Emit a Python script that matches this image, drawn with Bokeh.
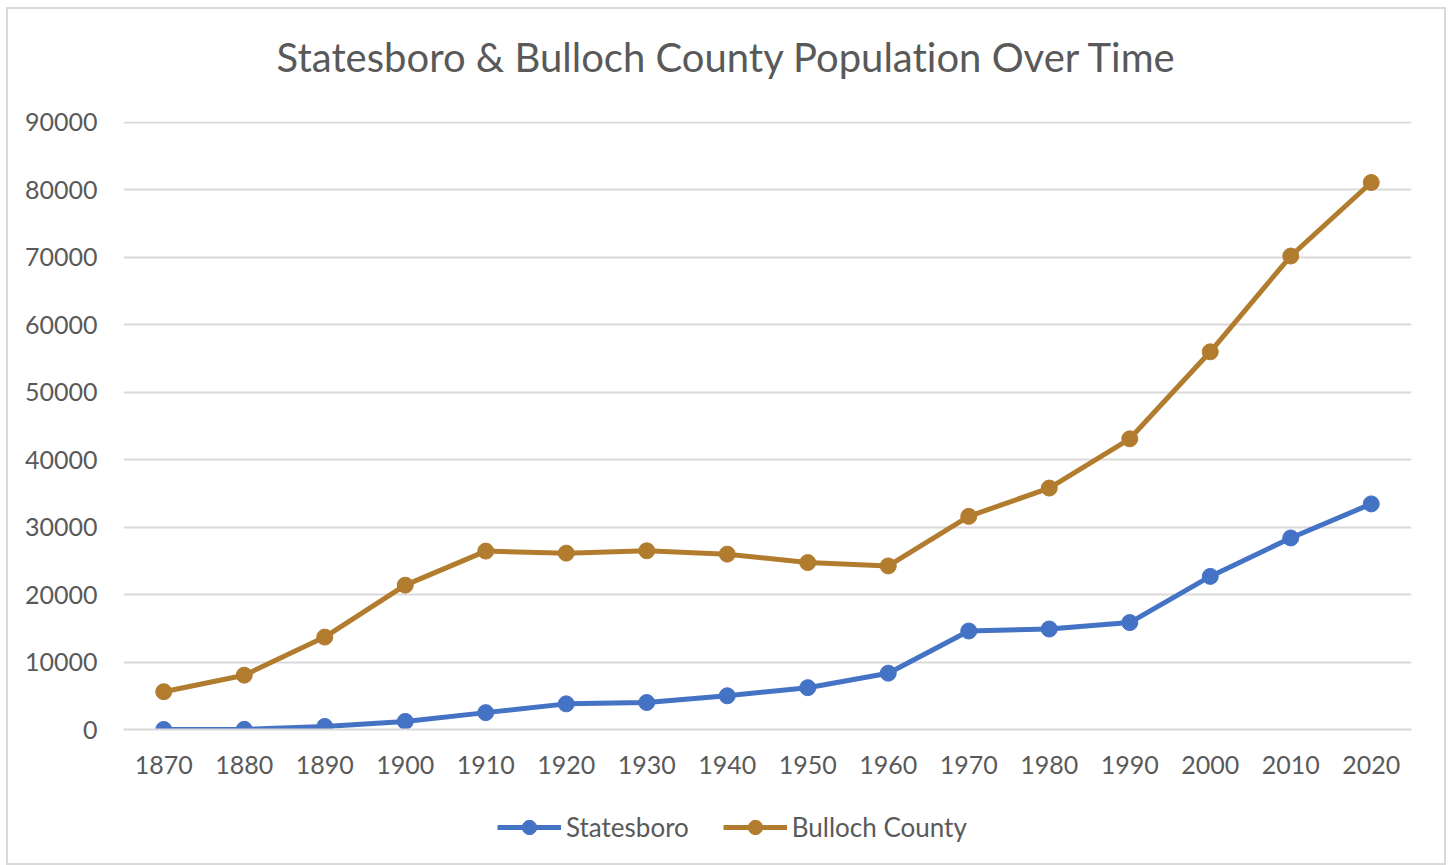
from bokeh.plotting import figure
from bokeh.layouts import column
from bokeh.models import Range1d, FactorRange, Legend, LegendItem, FixedTicker, Label
from bokeh.embed import file_html
from bokeh.resources import INLINE

years = ["1870", "1880", "1890", "1900", "1910", "1920", "1930", "1940",
         "1950", "1960", "1970", "1980", "1990", "2000", "2010", "2020"]
statesboro = [0, 25, 450, 1200, 2500, 3800, 4000, 5000,
              6200, 8350, 14600, 14900, 15850, 22700, 28400, 33450]
bulloch = [5600, 8050, 13700, 21400, 26450, 26150, 26500, 26000,
           24750, 24250, 31600, 35800, 43100, 56000, 70200, 81100]
y_ticks = [0, 10000, 20000, 30000, 40000, 50000, 60000, 70000, 80000, 90000]
title_text = "Statesboro & Bulloch County Population Over Time"

TXT = "#595959"
GRID = "#D9D9D9"
BLUE = "#4472C4"
GOLD = "#B27C2E"
FONT = "Lato"

W = 1436
TH, MH, LH = 92, 698, 64
ML, MR, MT, MB = 115, 33, 20, 70

# ---- title strip ----
tf = figure(width=W, height=TH, x_range=Range1d(0, 1), y_range=Range1d(0, 1),
            x_axis_type=None, y_axis_type=None, output_backend="svg",
            toolbar_location=None, min_border=0)
tf.outline_line_color = None
tf.grid.visible = False
tf.add_layout(Label(x=604, y=45, x_units="screen", y_units="screen",
                    text=title_text, text_align="center",
                    text_baseline="alphabetic", text_font=FONT,
                    text_font_size="40px", text_color=TXT))

# ---- main chart ----
p = figure(x_range=FactorRange(*years), y_range=Range1d(0, 90148),
           width=W, height=MH, output_backend="svg", toolbar_location=None,
           min_border_left=ML, min_border_right=MR, min_border_top=MT,
           min_border_bottom=MB)
p.outline_line_color = None
p.background_fill_color = "white"
p.border_fill_color = "white"

p.yaxis.ticker = FixedTicker(ticks=y_ticks)
p.yaxis.axis_line_color = None
p.yaxis.major_tick_line_color = None
p.yaxis.minor_tick_line_color = None
p.yaxis.major_tick_out = 0
p.yaxis.major_label_standoff = 26
p.yaxis.major_label_text_font = FONT
p.yaxis.major_label_text_font_size = "25px"
p.yaxis.major_label_text_color = TXT

p.xaxis.axis_line_color = GRID
p.xaxis.axis_line_width = 2
p.xaxis.major_tick_line_color = None
p.xaxis.minor_tick_line_color = None
p.xaxis.major_tick_out = 0
p.xaxis.major_label_standoff = 26
p.xaxis.major_label_text_font = FONT
p.xaxis.major_label_text_font_size = "25px"
p.xaxis.major_label_text_color = TXT

p.xgrid.grid_line_color = None
p.ygrid.grid_line_color = GRID
p.ygrid.grid_line_width = 2

p.line(years, statesboro, line_color=BLUE, line_width=5)
p.scatter(years, statesboro, size=16, fill_color=BLUE, line_color=BLUE)
p.line(years, bulloch, line_color=GOLD, line_width=5)
p.scatter(years, bulloch, size=16, fill_color=GOLD, line_color=GOLD)

# ---- legend strip (same series, drawn outside its visible range) ----
lf = figure(width=W, height=LH, x_range=FactorRange(*years), y_range=Range1d(-2, -1),
            x_axis_type=None, y_axis_type=None, output_backend="svg",
            toolbar_location=None, min_border=0)
lf.outline_line_color = None
lf.grid.visible = False
l1 = lf.line(years, statesboro, line_color=BLUE, line_width=5)
s1 = lf.scatter(years, statesboro, size=16, fill_color=BLUE, line_color=BLUE)
l2 = lf.line(years, bulloch, line_color=GOLD, line_width=5)
s2 = lf.scatter(years, bulloch, size=16, fill_color=GOLD, line_color=GOLD)
legend = Legend(items=[LegendItem(label="Statesboro", renderers=[l1, s1]),
                       LegendItem(label="Bulloch County", renderers=[l2, s2])],
                location=(374, 18), orientation="horizontal",
                glyph_width=64, glyph_height=36, label_standoff=5, spacing=34,
                padding=0, margin=0, border_line_color=None,
                background_fill_alpha=0,
                label_text_font=FONT, label_text_font_size="26px",
                label_text_color=TXT)
lf.add_layout(legend, "center")

layout = column(tf, p, lf, width=W + 4, height=TH + MH + LH + 4,
                styles={"border": "2px solid #D9D9D9", "margin-left": "6px",
                        "margin-top": "7px", "background": "white",
                        "font-variant-ligatures": "none",
                        "font-feature-settings": "\"liga\" 0"})

open("out.html", "w").write(file_html(layout, INLINE))
